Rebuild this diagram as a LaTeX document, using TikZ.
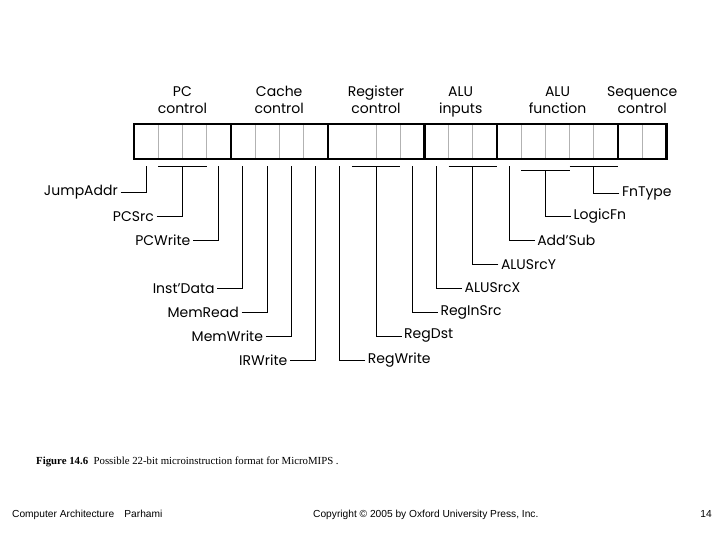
\documentclass[tikz,border=0pt]{standalone}
\usepackage{fontspec}
\setmainfont{Liberation Serif}
\newfontfamily\figfont{Poppins}
\newfontfamily\footfont{Liberation Sans}

\tikzset{
  lbl/.style={font=\figfont\fontsize{14}{17}\selectfont, inner sep=2.5pt},
  hdr/.style={font=\figfont\fontsize{14}{17.5}\selectfont, align=center, inner sep=0pt, anchor=north},
  wire/.style={line width=0.95pt},
  bitsep/.style={gray!60, line width=0.9pt},
  fieldsep/.style={line width=2.2pt},
  foot/.style={font=\footfont\fontsize{10.2}{12}\selectfont, inner sep=0pt}
}
\newcommand{\hstrut}{\rule{0pt}{12pt}}

\begin{document}
\begin{tikzpicture}[x=1pt, y=-1pt]
\useasboundingbox (0,0) rectangle (720,540);

% field headings
\node[hdr] (hpc)  at (182.4,84) {\hstrut PC\\control};
\node[hdr] (hcc)  at (279.2,84) {\hstrut Cache\\control};
\node[hdr] (hrc)  at (376.0,84) {\hstrut Register\\control};
\node[hdr] (hai)  at (460.7,84) {\hstrut ALU\\inputs};
\node[hdr] (haf)  at (557.5,84) {\hstrut ALU\\function};
\node[hdr] (hsc)  at (642.2,84) {\hstrut Sequence\\control};

% the 22-bit word
\foreach \i in {1,2,3,5,6,7,10,11,13,14,16,17,18,19,21}
  \draw[bitsep] ({134+24.2*\i},124.3) -- ({134+24.2*\i},159.3);
\foreach \i in {4,8,12,15,20}
  \draw[fieldsep] ({134+24.2*\i},124.3) -- ({134+24.2*\i},159.3);
\draw[fieldsep] (134,124.3) rectangle (666.4,159.3);

% tick points under the bits
\coordinate (t0)  at (146.1,166);
\coordinate (t3)  at (218.7,166);
\coordinate (t4)  at (242.9,166);
\coordinate (t5)  at (267.1,166);
\coordinate (t6)  at (291.3,166);
\coordinate (t7)  at (315.5,166);
\coordinate (t8)  at (339.7,166);
\coordinate (t11) at (412.3,166);
\coordinate (t12) at (436.5,166);
\coordinate (t15) at (509.1,166);
% two-bit brackets
\coordinate (t12a) at (182.4,166.5);
\coordinate (t910) at (376.0,166.5);
\coordinate (t1314) at (472.8,166.5);
\coordinate (t1617) at (545.4,170);
\coordinate (t1819) at (593.8,166);
\draw[wire] (158.2,166.5) -- (206.6,166.5);
\draw[wire] (351.8,166.5) -- (400.2,166.5);
\draw[wire] (448.6,166.5) -- (497.0,166.5);
\draw[wire] (521.2,170) -- (569.6,170);
\draw[wire] (569.6,166) -- (618.0,166);

% signal names, left side
\node[lbl, anchor=east] (jumpaddr) at (120.5,192.5) {JumpAddr};
\node[lbl, anchor=east] (pcsrc)    at (156.5,216.5) {PCSrc};
\node[lbl, anchor=east] (pcwrite)  at (193.0,240.5) {PCWrite};
\node[lbl, anchor=east] (instdata) at (217.3,288.5) {Inst’Data};
\node[lbl, anchor=east] (memread)  at (241.5,312.5) {MemRead};
\node[lbl, anchor=east] (memwrite) at (265.7,336.0) {MemWrite};
\node[lbl, anchor=east] (irwrite)  at (290.0,360.0) {IRWrite};
% signal names, right side
\node[lbl, anchor=west] (regwrite) at (365.2,360.0) {RegWrite};
\node[lbl, anchor=west] (regdst)   at (401.5,336.0) {RegDst};
\node[lbl, anchor=west] (reginsrc) at (437.8,312.0) {RegInSrc};
\node[lbl, anchor=west] (alusrcx)  at (462.0,288.0) {ALUSrcX};
\node[lbl, anchor=west] (alusrcy)  at (498.3,264.5) {ALUSrcY};
\node[lbl, anchor=west] (addsub)   at (534.6,240.5) {Add’Sub};
\node[lbl, anchor=west] (logicfn)  at (570.9,216.5) {LogicFn};
\node[lbl, anchor=west] (fntype)   at (619.3,193.0) {FnType};

\draw[wire] (jumpaddr.east) -| (t0);
\draw[wire] (pcsrc.east) -| (t12a);
\draw[wire] (pcwrite.east) -| (t3);
\draw[wire] (instdata.east) -| (t4);
\draw[wire] (memread.east) -| (t5);
\draw[wire] (memwrite.east) -| (t6);
\draw[wire] (irwrite.east) -| (t7);
\draw[wire] (regwrite.west) -| (t8);
\draw[wire] (regdst.west) -| (t910);
\draw[wire] (reginsrc.west) -| (t11);
\draw[wire] (alusrcx.west) -| (t12);
\draw[wire] (alusrcy.west) -| (t1314);
\draw[wire] (addsub.west) -| (t15);
\draw[wire] (logicfn.west) -| (t1617);
\draw[wire] (fntype.west) -| (t1819);

% caption and footer
\node[anchor=base west, inner sep=0pt, font=\fontsize{10.8}{13}\selectfont] (caption) at (36,464)
  {\textbf{Figure 14.6}\enspace Possible 22-bit microinstruction format for MicroMIPS .};
\node[foot, anchor=base west] (course) at (12,517) {Computer Architecture\quad Parhami};
\node[foot, anchor=base west] (copy) at (313,517) {Copyright © 2005 by Oxford University Press, Inc.};
\node[foot, anchor=base east] (page) at (712,517) {14};
\end{tikzpicture}
\end{document}
